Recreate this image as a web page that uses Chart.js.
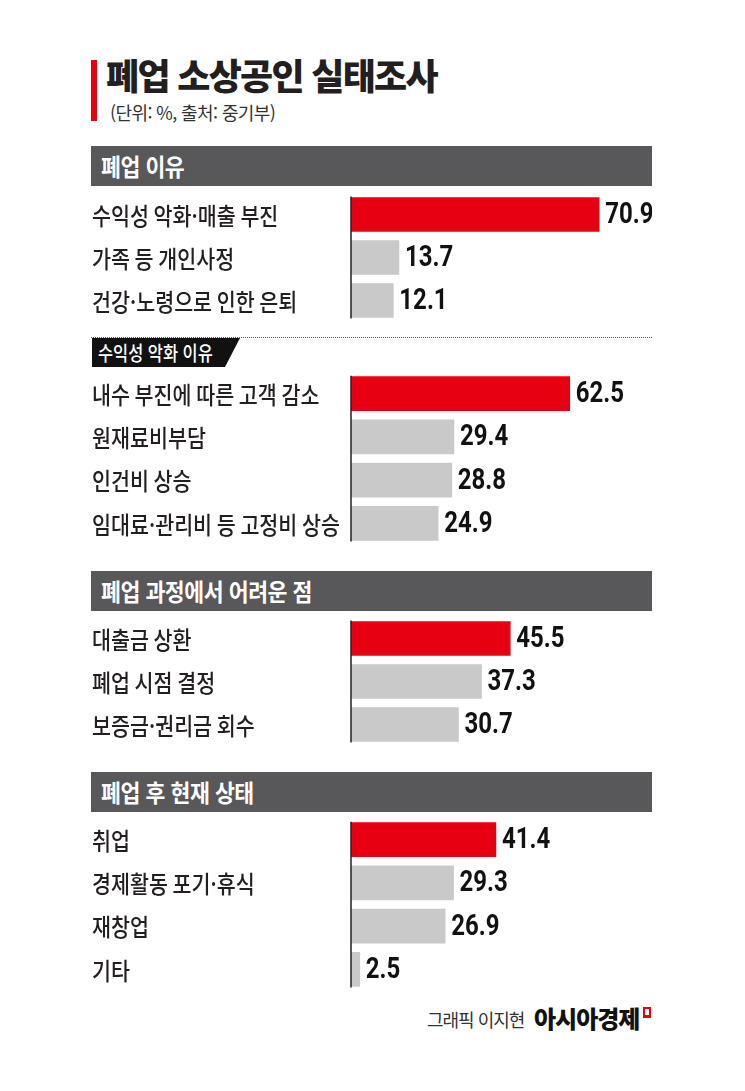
<!DOCTYPE html>
<html lang="ko">
<head>
<meta charset="utf-8">
<script src="https://cdn.jsdelivr.net/npm/chart.js@4.4.1/dist/chart.umd.min.js"></script>
<style>
  body { margin: 0; background: #fff; width: 745px; height: 1091px; position: relative; overflow: hidden;
         font-family: 'Noto Sans CJK KR', sans-serif; color: #231f20; }
  .abs { position: absolute; }
  .sq { display: inline-block; transform-origin: left center; white-space: nowrap; }
  .redbar { left: 91px; top: 60px; width: 6px; height: 61px; background: #e60012; }
  .title { left: 106px; top: 48px; font-size: 36px; font-weight: 900; letter-spacing: -1.7px; line-height: 52px; white-space: nowrap; }
  .sub { left: 110px; top: 99px; font-size: 18px; letter-spacing: -0.6px; line-height: 26px; color: #333; white-space: nowrap; }
  .head { left: 91px; width: 561px; height: 40px; background: #58575a; color: #fff; font-size: 24px; font-weight: 700;
          line-height: 40px; padding-left: 10px; box-sizing: border-box; }
  .head .sq { transform: scaleX(0.9); letter-spacing: -0.5px; }
  .dots { left: 91px; top: 337px; width: 561px; border-top: 1px dotted #555; }
  .tag { left: 92px; top: 338px; width: 148px; height: 29px; background: #111; color: #fff; font-size: 20px; font-weight: 500;
         line-height: 29px; padding-left: 6px; box-sizing: border-box;
         clip-path: polygon(0 0, 148px 0, 133px 100%, 0 100%); }
  .tag .sq { transform: scaleX(0.82); }
  canvas { position: absolute; left: 91px; }
  .foot1 { left: 427px; top: 1005px; font-size: 18px; color: #333; letter-spacing: -1px; line-height: 28px; white-space: nowrap; }
  .foot2 { left: 534px; top: 1002px; font-size: 24px; font-weight: 900; color: #111; letter-spacing: -1px; line-height: 32px; white-space: nowrap; }
  .icon { left: 643px; top: 1007px; width: 4px; height: 6px; border: 2px solid #e60012; border-bottom-width: 3px; }
</style>
</head>
<body>
<div class="abs redbar"></div>
<div class="abs title">폐업 소상공인 실태조사</div>
<div class="abs sub">(단위: %, 출처: 중기부)</div>

<div class="abs head" style="top:146px"><span class="sq">폐업 이유</span></div>
<canvas id="c1" width="561" height="129" style="top:193px"></canvas>

<div class="abs dots"></div>
<div class="abs tag"><span class="sq">수익성 악화 이유</span></div>
<canvas id="c2" width="561" height="173" style="top:372px"></canvas>

<div class="abs head" style="top:571px"><span class="sq">폐업 과정에서 어려운 점</span></div>
<canvas id="c3" width="561" height="129" style="top:617px"></canvas>

<div class="abs head" style="top:772px"><span class="sq">폐업 후 현재 상태</span></div>
<canvas id="c4" width="561" height="173" style="top:818px"></canvas>

<div class="abs foot1">그래픽 이지현</div>
<div class="abs foot2">아시아경제</div>
<div class="abs icon"></div>

<script>
// 폐업 이유
const reasonLabels = ['수익성 악화·매출 부진', '가족 등 개인사정', '건강·노령으로 인한 은퇴'];
const reasonValues = [70.9, 13.7, 12.1];

// 수익성 악화 이유
const profitLabels = ['내수 부진에 따른 고객 감소', '원재료비부담', '인건비 상승', '임대료·관리비 등 고정비 상승'];
const profitValues = [62.5, 29.4, 28.8, 24.9];

// 폐업 과정에서 어려운 점
const hardLabels = ['대출금 상환', '폐업 시점 결정', '보증금·권리금 회수'];
const hardValues = [45.5, 37.3, 30.7];

// 폐업 후 현재 상태
const afterLabels = ['취업', '경제활동 포기·휴식', '재창업', '기타'];
const afterValues = [41.4, 29.3, 26.9, 2.5];

const RED = '#e60012';
const GRAY = '#c9c9c9';
const LABEL_FONT = "500 24px 'Noto Sans CJK KR', sans-serif";
const VALUE_FONT = "bold 30px 'Roboto', 'Liberation Sans', sans-serif";

// the reference uses condensed type, so text is squeezed horizontally
function squeezedText(ctx, text, x, y, sx) {
    ctx.save();
    ctx.translate(x, y);
    ctx.scale(sx, 1);
    ctx.fillText(text, 0, 0);
    ctx.restore();
}

// category labels, value text at bar ends, short vertical axis line
const barExtras = {
    id: 'barExtras',
    afterDatasetsDraw(chart) {
        const ctx = chart.ctx;
        const meta = chart.getDatasetMeta(0);
        const values = chart.data.datasets[0].data;
        const yScale = chart.scales.y;
        ctx.save();
        ctx.textBaseline = 'middle';

        ctx.font = LABEL_FONT;
        ctx.fillStyle = '#231f20';
        chart.data.labels.forEach((label, i) => {
            squeezedText(ctx, label, 1, yScale.getPixelForValue(i) + 1, 0.86);
        });

        ctx.font = VALUE_FONT;
        ctx.fillStyle = '#111';
        meta.data.forEach((bar, i) => {
            squeezedText(ctx, values[i].toFixed(1), bar.x + 6, bar.y + 1, 0.8);
        });

        const first = meta.data[0];
        const last = meta.data[meta.data.length - 1];
        ctx.strokeStyle = '#231f20';
        ctx.lineWidth = 1.5;
        ctx.beginPath();
        ctx.moveTo(chart.chartArea.left, first.y - first.height / 2 - 1);
        ctx.lineTo(chart.chartArea.left, last.y + last.height / 2 + 1);
        ctx.stroke();
        ctx.restore();
    }
};

function makeChart(id, labels, values) {
    return new Chart(document.getElementById(id), {
        type: 'bar',
        data: {
            labels: labels,
            datasets: [{
                data: values,
                backgroundColor: values.map((v, i) => i === 0 ? RED : GRAY),
                borderWidth: 0,
                barThickness: 34
            }]
        },
        options: {
            responsive: false,
            animation: false,
            indexAxis: 'y',
            layout: { padding: 0 },
            plugins: { legend: { display: false }, tooltip: { enabled: false } },
            scales: {
                x: { display: false, min: 0, max: 86 },
                y: {
                    grid: { display: false, drawTicks: false },
                    border: { display: false },
                    ticks: { display: false },
                    afterFit(scale) {
                        scale.width = 260;
                        scale.paddingTop = 0;
                        scale.paddingBottom = 0;
                    }
                }
            }
        },
        plugins: [barExtras]
    });
}

makeChart('c1', reasonLabels, reasonValues);
makeChart('c2', profitLabels, profitValues);
makeChart('c3', hardLabels, hardValues);
makeChart('c4', afterLabels, afterValues);
</script>
</body>
</html>
